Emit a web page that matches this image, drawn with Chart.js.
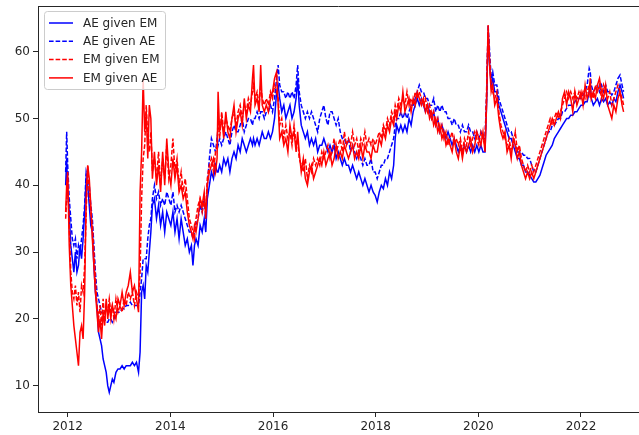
<!DOCTYPE html>
<html>
<head>
<meta charset="utf-8">
<script src="https://cdn.jsdelivr.net/npm/chart.js@4/dist/chart.umd.min.js"></script>
<style>
  html, body { margin: 0; padding: 0; background: #ffffff; }
  canvas { display: block; }
</style>
</head>
<body>
<canvas id="chart" width="639" height="435"></canvas>
<script>
// Observation dates as decimal years (roughly fortnightly)
const dates = [
  2011.96, 2011.98, 2012.00, 2012.03, 2012.06, 2012.09, 2012.12, 2012.15, 2012.18, 2012.21, 2012.24, 2012.27, 2012.30, 2012.33, 2012.36, 2012.39, 2012.42, 2012.45, 2012.48, 2012.51, 2012.54, 2012.57, 2012.60, 2012.63, 2012.66, 2012.69, 2012.72, 2012.75, 2012.78, 2012.81, 2012.84, 2012.87, 2012.90, 2012.94, 2012.98,
  2013.02, 2013.06, 2013.10, 2013.14, 2013.18, 2013.22, 2013.26, 2013.30, 2013.34, 2013.38, 2013.41, 2013.44, 2013.47, 2013.50, 2013.53, 2013.56, 2013.59, 2013.62, 2013.65, 2013.69, 2013.73, 2013.77, 2013.81, 2013.85, 2013.89, 2013.93, 2013.97,
  2014.01, 2014.05, 2014.09, 2014.13, 2014.17, 2014.21, 2014.25, 2014.29, 2014.33, 2014.37, 2014.41, 2014.44, 2014.47, 2014.50, 2014.54, 2014.58, 2014.62, 2014.66, 2014.69, 2014.72, 2014.76, 2014.80, 2014.84, 2014.88, 2014.91, 2014.93, 2014.96,
  2015.00, 2015.04, 2015.08, 2015.12, 2015.16, 2015.20, 2015.24, 2015.28, 2015.32, 2015.36, 2015.40, 2015.44, 2015.48, 2015.52, 2015.56, 2015.60, 2015.62, 2015.65, 2015.69, 2015.73, 2015.76, 2015.79, 2015.83, 2015.87, 2015.91, 2015.95, 2015.99,
  2016.03, 2016.07, 2016.10, 2016.13, 2016.17, 2016.21, 2016.25, 2016.29, 2016.33, 2016.37, 2016.41, 2016.45, 2016.48, 2016.51, 2016.55, 2016.59, 2016.63, 2016.67, 2016.71, 2016.75, 2016.79, 2016.83, 2016.87, 2016.91, 2016.95, 2016.99,
  2017.03, 2017.07, 2017.11, 2017.15, 2017.19, 2017.23, 2017.27, 2017.31, 2017.35, 2017.39, 2017.43, 2017.47, 2017.51, 2017.55, 2017.59, 2017.63, 2017.67, 2017.71, 2017.75, 2017.79, 2017.83, 2017.87, 2017.91, 2017.95, 2017.99,
  2018.03, 2018.07, 2018.11, 2018.15, 2018.19, 2018.23, 2018.27, 2018.31, 2018.35, 2018.38, 2018.41, 2018.45, 2018.49, 2018.53, 2018.57, 2018.61, 2018.65, 2018.69, 2018.73, 2018.77, 2018.81, 2018.85, 2018.89, 2018.93, 2018.97,
  2019.01, 2019.05, 2019.09, 2019.13, 2019.17, 2019.21, 2019.25, 2019.29, 2019.33, 2019.37, 2019.41, 2019.45, 2019.49, 2019.53, 2019.57, 2019.61, 2019.65, 2019.69, 2019.73, 2019.77, 2019.81, 2019.85, 2019.89, 2019.93, 2019.97,
  2020.01, 2020.05, 2020.09, 2020.13, 2020.16, 2020.19, 2020.22, 2020.25, 2020.28, 2020.32, 2020.36, 2020.40, 2020.44, 2020.48, 2020.52, 2020.56, 2020.60, 2020.64, 2020.68, 2020.72, 2020.76, 2020.80, 2020.84, 2020.88, 2020.92, 2020.96,
  2021.00, 2021.04, 2021.08, 2021.12, 2021.16, 2021.20, 2021.24, 2021.28, 2021.32, 2021.36, 2021.40, 2021.44, 2021.48, 2021.52, 2021.56, 2021.60, 2021.64, 2021.68, 2021.72, 2021.76, 2021.80, 2021.84, 2021.88, 2021.92, 2021.96,
  2022.00, 2022.04, 2022.08, 2022.12, 2022.16, 2022.18, 2022.20, 2022.24, 2022.28, 2022.32, 2022.36, 2022.40, 2022.44, 2022.48, 2022.52, 2022.56, 2022.60, 2022.64, 2022.68, 2022.72, 2022.76, 2022.80, 2022.83
];

const aeGivenEm = [
  40, 44, 39, 36, 31, 29, 27, 30, 27, 28, 31, 29, 32, 36, 41, 40, 37, 34, 33, 28, 24, 22, 18, 17, 16, 14, 13, 12, 10, 9, 10, 11, 10.5, 12, 12.5,
  12.5, 13, 12.5, 13, 13, 13, 13.5, 13, 13.5, 12, 15, 24, 25, 23, 28, 27, 30, 33, 37, 38, 35, 37, 34, 36, 33, 36, 35,
  34, 36, 33, 35, 32, 35, 33, 31, 32, 30, 31, 28, 31, 32, 31, 34, 33, 35, 33, 38, 40, 42, 41, 43, 42, 42, 43,
  42, 44, 43, 44, 42, 44, 45, 44, 46, 45, 47, 46, 45, 46, 47, 46, 47, 46, 47, 46, 47, 48, 47, 47, 48, 47, 48,
  50, 54, 55, 53, 51, 52, 50, 51, 52, 50, 51, 53, 56, 52, 49, 48, 47, 48, 46, 47, 46, 47, 45, 46, 46, 47,
  46, 45, 46, 45, 46, 44, 45, 44, 43, 44, 43, 43, 42, 43, 42, 41, 42, 41, 40, 41, 40, 39, 40, 39, 38.5,
  37.5, 39, 40, 39.5, 41, 40, 42, 41, 43, 47, 49, 48, 49, 48, 49, 48, 50, 49, 51, 52, 53, 52, 53, 52, 51,
  52, 51, 50, 51, 49, 50, 48, 49, 48, 47, 48, 47, 46, 47, 46, 45, 46, 45, 46, 45, 46, 45, 46, 45, 46,
  45, 46, 45, 45, 52, 63, 58, 55, 56, 54, 54, 52, 51, 50, 49, 48, 47, 47, 46, 45, 44, 44, 43, 43, 42, 42,
  41.5, 41, 40.5, 40.5, 41, 41.5, 42.5, 43.5, 44.5, 45, 45.5, 46, 47, 47.5, 48, 48.5, 49, 49.5, 50, 50, 50.5, 50.5, 51, 51, 51.5,
  52, 52, 52.5, 52.5, 54, 55, 53, 52, 52.5, 53, 52, 53, 52.5, 53, 52, 52.5, 52, 53, 52.5, 54, 55, 54, 53
];

const aeGivenAe = [
  42, 48, 43, 38, 35, 32, 31, 32, 29, 31, 30, 32, 34, 37, 42, 41, 40, 37, 35, 31, 27, 24, 23, 22, 21, 21, 20, 19.5, 19.5, 20, 20, 19.5, 20, 21, 21,
  21, 21.5, 21.5, 22, 22, 22.5, 22, 22, 22, 22, 24, 26, 29, 29, 29, 32, 34, 35, 38, 40, 38, 39, 37, 38, 37, 39, 38,
  37, 39, 36, 37, 36, 37, 36, 35, 34, 33, 33, 32, 33, 34, 35, 37, 36, 38, 35, 40, 44, 47, 46, 45, 47, 46, 47,
  46, 47, 48, 47, 46, 48, 49, 48, 48, 49, 50, 48, 49, 50, 50, 49, 50, 50, 51, 50, 51, 51, 50, 51, 51, 52, 51,
  53, 56, 58, 55, 54, 54, 53, 54, 53, 54, 53, 55, 58, 54, 52, 51, 50, 51, 50, 51, 50, 49, 48, 50, 51, 52,
  50, 49, 51, 51, 50, 49, 50, 48, 47, 47, 46, 47, 45, 46, 45, 44, 45, 44, 43, 44, 43, 43, 44, 42, 42,
  41, 42, 43, 43, 44, 44, 45, 46, 47, 49, 50, 50, 51, 50, 51, 50, 51, 52, 52, 53, 54, 55, 54, 54, 53,
  53, 52, 52, 53, 51, 52, 51, 52, 51, 51, 50, 50, 49, 50, 49, 49, 48, 49, 48, 48, 49, 48, 48, 47, 48,
  47, 48, 47, 47, 53, 64, 60, 56, 57, 55, 55, 53, 52, 51, 50, 49, 48, 48, 47, 46, 45, 45, 45, 44.5, 44.5, 44,
  44, 43, 42, 42, 43, 44, 45, 46, 47, 48, 48, 49, 49, 49.5, 50, 50, 51, 51, 51.5, 52, 52, 52, 52.5, 53, 53,
  53, 53.5, 54, 55, 57.5, 57, 55, 54, 54.5, 55, 54, 55, 54, 55, 54, 54, 53.5, 54, 55, 56, 56.5, 55, 54
];

const emGivenEm = [
  35, 38, 41, 34, 27, 24, 23, 25, 22, 24, 21, 25, 24, 28, 36, 43, 39, 36, 34, 30, 26, 22, 20, 22, 19, 23, 20, 22, 21, 23, 21, 22, 20, 23, 21,
  22, 21, 23, 22, 24, 23, 24, 22, 24, 23, 27, 38, 44, 46, 52, 47, 45, 48, 42, 44, 41, 45, 40, 44, 41, 46, 41,
  43, 47, 42, 44, 40, 42, 39, 41, 38, 35, 34, 33, 32, 35, 37, 38, 36, 38, 36, 41, 43, 44, 42, 45, 46, 50, 47,
  51, 48, 50, 49, 48, 50, 51, 49, 51, 52, 50, 52, 51, 53, 52, 54, 55, 53, 54, 52, 55, 53, 52, 53, 52, 54, 53,
  55, 54, 53, 49, 50, 47, 49, 47, 48, 46, 49, 46, 47, 44, 43, 42, 44, 41, 43, 42, 44, 43, 44, 43, 45, 44,
  45, 46, 44, 45, 47, 45, 46, 47, 45, 48, 46, 47, 46, 48, 46, 47, 45, 47, 46, 48, 46, 47, 46, 47, 46,
  47, 48, 47, 49, 48, 50, 49, 51, 50, 52, 51, 53, 52, 53, 52, 54, 52, 53, 52, 54, 53, 54, 53, 52, 53,
  51, 52, 50, 51, 49, 50, 48, 49, 47, 48, 46, 47, 48, 46, 47, 46, 47, 45, 47, 46, 48, 46, 47, 48, 47,
  46, 48, 47, 46, 54, 63, 59, 55, 54, 53, 54, 51, 49, 48, 47, 46, 47, 45, 46, 48, 45, 46, 44, 43, 42, 43,
  42, 43, 42, 43, 44, 45, 46, 47, 48, 49, 50, 49, 50, 51, 50, 51, 52, 53, 54, 53, 54, 53, 54, 53, 54,
  53, 54, 53, 54, 55, 53, 54, 53, 55, 54, 55, 53, 55, 54, 53, 54, 52, 53, 54, 55, 54, 53, 52
];

const emGivenAe = [
  36, 40, 42, 31, 25, 22, 19, 17, 15, 13, 18, 19, 17, 24, 38, 43, 41, 37, 32, 28, 24, 21, 18, 20, 17, 21, 19, 23, 20, 22, 20, 22, 21, 20, 23,
  22, 24, 22, 24, 25, 27, 24, 25, 23, 21, 39, 45, 56, 48, 51, 44, 52, 50, 41, 45, 40, 43, 39, 45, 40, 47, 42,
  40, 44, 41, 43, 39, 40, 38, 39, 36, 34, 33, 32, 34, 33, 35, 38, 37, 39, 35, 40, 42, 43, 44, 42, 44, 54, 48,
  50, 47, 51, 48, 47, 50, 52, 48, 50, 51, 49, 53, 50, 52, 51, 56, 58, 52, 53, 51, 58, 52, 51, 52, 51, 53, 54,
  56, 57, 52, 47, 48, 46, 47, 45, 49, 47, 48, 45, 48, 45, 42, 44, 41, 40, 42, 43, 41, 42, 43, 44, 43, 45,
  43, 44, 45, 43, 44, 46, 44, 45, 44, 46, 45, 44, 45, 46, 44, 45, 44, 46, 44, 46, 45, 45, 44, 46, 45,
  45, 47, 46, 48, 47, 49, 48, 50, 49, 51, 50, 52, 51, 54, 51, 52, 53, 51, 53, 52, 54, 53, 52, 53, 51,
  52, 50, 51, 49, 50, 48, 49, 47, 48, 46, 47, 46, 45, 47, 45, 44, 46, 44, 46, 45, 46, 47, 45, 46, 48,
  47, 46, 48, 45, 52, 64, 58, 54, 55, 52, 53, 50, 48, 47, 48, 45, 46, 44, 47, 46, 44, 45, 43, 42, 41, 42,
  41, 42, 41, 42, 43, 44, 45, 46, 47, 48, 49, 50, 49, 50, 51, 50, 53, 54, 52, 54, 53, 51, 54, 52, 53,
  54, 52, 55, 53, 54, 56, 53, 54, 53, 55, 56, 54, 53, 55, 52, 51, 50, 52, 51, 53, 54, 52, 51
];

const seriesNames = ['AE given EM', 'AE given AE', 'EM given EM', 'EM given AE'];
const yearTicks = [2012, 2014, 2016, 2018, 2020, 2022];
const valueTicks = [10, 20, 30, 40, 50, 60];

const INK = '#262626';
const FONT = { family: 'DejaVu Sans', size: 12 };
const DASH = [4.6, 2];

function points(values) {
  return dates.map((d, i) => ({ x: d, y: values[i] }));
}

function lineSet(label, values, color, dash, order) {
  return {
    label: label,
    data: points(values),
    borderColor: color,
    backgroundColor: color,
    borderWidth: 1.5,
    borderDash: dash,
    pointRadius: 0,
    tension: 0,
    fill: false,
    order: order
  };
}

// Frame top edge and an inset legend box in the upper-left corner
const frameAndLegend = {
  id: 'frameAndLegend',
  afterDraw(chart) {
    const ctx = chart.ctx;
    const area = chart.chartArea;
    ctx.save();
    ctx.strokeStyle = INK;
    ctx.lineWidth = 1;
    ctx.setLineDash([]);
    ctx.beginPath();
    ctx.moveTo(area.left, area.top + 0.5);
    ctx.lineTo(area.right, area.top + 0.5);
    ctx.stroke();

    const bx = area.left + 6.5, by = area.top + 5.5, bw = 121, bh = 78, r = 3;
    ctx.beginPath();
    ctx.moveTo(bx + r, by);
    ctx.lineTo(bx + bw - r, by);
    ctx.arcTo(bx + bw, by, bx + bw, by + r, r);
    ctx.lineTo(bx + bw, by + bh - r);
    ctx.arcTo(bx + bw, by + bh, bx + bw - r, by + bh, r);
    ctx.lineTo(bx + r, by + bh);
    ctx.arcTo(bx, by + bh, bx, by + bh - r, r);
    ctx.lineTo(bx, by + r);
    ctx.arcTo(bx, by, bx + r, by, r);
    ctx.closePath();
    ctx.fillStyle = 'rgba(255,255,255,0.8)';
    ctx.fill();
    ctx.strokeStyle = '#cccccc';
    ctx.stroke();

    ctx.font = FONT.size + 'px "' + FONT.family + '"';
    ctx.textBaseline = 'middle';
    ctx.textAlign = 'left';
    chart.data.datasets.forEach((ds, i) => {
      const y = area.top + 17 + i * 18.3;
      ctx.strokeStyle = ds.borderColor;
      ctx.lineWidth = ds.borderWidth;
      ctx.setLineDash(ds.borderDash);
      ctx.beginPath();
      ctx.moveTo(area.left + 11, y);
      ctx.lineTo(area.left + 35, y);
      ctx.stroke();
      ctx.fillStyle = INK;
      ctx.fillText(ds.label, area.left + 45, y + 0.5);
    });
    ctx.restore();
  }
};

new Chart(document.getElementById('chart'), {
  type: 'line',
  data: {
    datasets: [
      lineSet(seriesNames[0], aeGivenEm, '#0000ff', [], 4),
      lineSet(seriesNames[1], aeGivenAe, '#0000ff', DASH, 3),
      lineSet(seriesNames[2], emGivenEm, '#ff0000', DASH, 2),
      lineSet(seriesNames[3], emGivenAe, '#ff0000', [], 1)
    ]
  },
  options: {
    responsive: false,
    animation: false,
    devicePixelRatio: 1,
    layout: { padding: { top: 6, right: 0, bottom: 0, left: 0 } },
    plugins: {
      legend: { display: false },
      tooltip: { enabled: false }
    },
    scales: {
      x: {
        type: 'linear',
        min: 2011.4214,
        max: 2023.130,
        afterBuildTicks: s => { s.ticks = yearTicks.map(v => ({ value: v })); },
        afterFit: s => { s.height = 23; s.paddingLeft = 0; s.paddingRight = 0; },
        ticks: {
          color: INK,
          font: FONT,
          padding: 3,
          maxRotation: 0,
          autoSkip: false,
          callback: v => String(v)
        },
        grid: { drawOnChartArea: false, drawTicks: true, tickLength: 5, color: INK, tickWidth: 1 },
        border: { display: true, color: INK, width: 1 }
      },
      y: {
        type: 'linear',
        min: 6.06,
        max: 66.84,
        afterBuildTicks: s => { s.ticks = valueTicks.map(v => ({ value: v })); },
        afterFit: s => { s.width = 38; s.paddingTop = 0; s.paddingBottom = 0; },
        ticks: {
          color: INK,
          font: FONT,
          padding: 3,
          callback: v => String(v)
        },
        grid: { drawOnChartArea: false, drawTicks: true, tickLength: 5, color: INK, tickWidth: 1 },
        border: { display: true, color: INK, width: 1 }
      }
    }
  },
  plugins: [frameAndLegend]
});
</script>
</body>
</html>
